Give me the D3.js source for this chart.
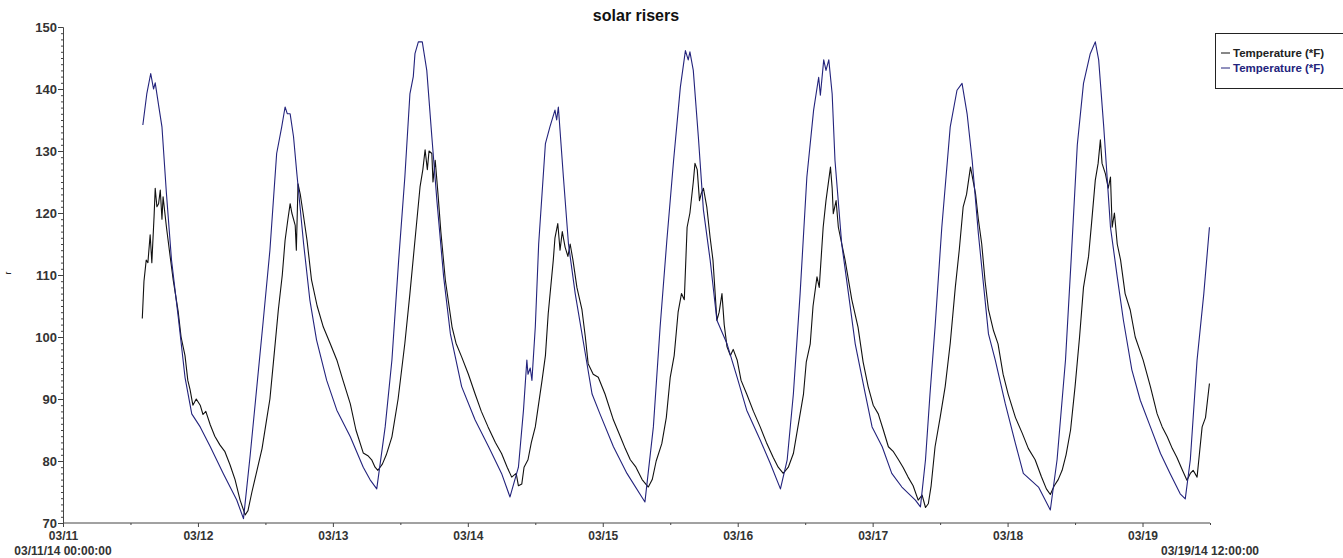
<!DOCTYPE html>
<html>
<head>
<meta charset="utf-8">
<script src="https://cdn.jsdelivr.net/npm/d3@7"></script>
<style>
body { margin: 0; background: #fff; }
svg { display: block; font-family: "Liberation Sans", Arial, sans-serif; }
.axis text { font-weight: bold; fill: #333; }
.axis path, .axis line { stroke: #444; }
</style>
</head>
<body>
<svg id="chart" width="1343" height="558"></svg>
<script>
'use strict';

//Readings taken off the plot. Each pair is [hours after 03/11/14 00:00, degrees F].
const seriesBlack = [[14.1,103],[14.4,109],[14.8,112.4],[15.1,112],[15.5,116.5],[15.8,112],[16.2,119.5],[16.4,124],[16.7,121],[17.0,121.5],[17.3,123.7],[17.6,119],[17.8,122.6],[18.4,117.7],[19.0,113.4],[19.6,109.2],[20.5,104],[21.0,100],[21.7,97],[22.2,93],[22.6,91.5],[23.1,89],[23.7,90],[24.4,89],[24.9,87.5],[25.4,88],[26.2,85.8],[27.0,84],[27.9,82.6],[28.8,81.5],[29.7,79.4],[30.6,77],[31.5,73.7],[32.4,71.3],[32.9,72],[33.6,75],[34.5,78.5],[35.4,82],[36.2,86.6],[36.8,90],[37.4,95.7],[38.3,104.4],[39.0,110],[39.5,115.6],[40.0,119],[40.4,121.5],[40.7,120],[41.3,118],[41.5,114],[41.8,124.7],[42.2,123],[42.7,120],[43.4,115.6],[44.2,109.2],[45.2,105],[46.3,101.6],[47.5,99],[48.7,96.3],[49.8,93],[51.1,89.2],[52.1,85],[53.4,81.3],[54.3,80.8],[54.9,80.2],[55.5,79],[56.0,78.5],[56.8,79.5],[57.5,81],[58.5,83.9],[59.6,90],[60.8,99],[61.7,107],[62.6,115.6],[63.5,124.2],[64.0,127],[64.4,130.2],[64.8,127],[65.1,130],[65.6,129.6],[65.8,125],[66.2,128.5],[66.7,123],[67.2,117],[68.0,109.2],[69.2,101.6],[69.9,99],[70.9,96.8],[72.1,94],[73.3,90.8],[74.4,88],[75.6,85.5],[76.9,83],[78.0,81.2],[79.0,79],[79.8,77.4],[80.6,78],[81.0,76],[81.6,76.3],[82.0,79],[82.7,80.2],[83.3,83],[84.0,85.5],[85.2,93],[85.8,97],[86.3,103.8],[87.2,112.4],[87.5,116],[88.0,118.3],[88.4,114],[88.8,117],[89.3,114.5],[89.8,113],[90.2,115],[90.7,112.4],[91.4,108],[92.3,104.4],[92.9,100],[93.4,95.7],[94.3,94],[95.2,93.5],[96.4,90.8],[97.9,86.6],[99.1,84],[100.0,82],[100.9,80.2],[101.9,79],[103.0,77],[104.1,75.8],[104.8,77],[105.5,80],[106.5,82.8],[107.3,87],[108.0,93.5],[108.7,97],[109.4,104],[110.0,107],[110.5,106],[111.0,117.7],[111.5,120],[112.1,125],[112.4,128],[112.8,127],[113.2,122],[113.5,123.1],[113.9,124],[114.5,121],[115.1,116],[115.6,112.4],[116.3,102.7],[116.7,104],[117.2,107],[117.6,102],[118.1,98.4],[118.7,97],[119.2,98],[119.9,96.3],[120.6,93],[121.6,90.8],[122.8,88],[124.0,85.5],[125.1,83],[126.3,80.6],[127.2,79],[128.1,78],[129.0,79],[129.9,81.2],[130.8,86],[131.7,90.8],[132.2,96],[132.9,98.9],[133.4,105],[134.1,109.7],[134.5,108],[135.2,117.7],[135.7,122],[136.5,127.4],[136.8,124],[137.0,119.9],[137.5,122],[137.9,117.7],[139.1,112.4],[140.3,106],[141.4,101.6],[142.3,96],[143.2,92],[144.1,89],[145.0,87.6],[145.9,85],[146.8,82.3],[147.7,81.5],[148.6,80.2],[149.4,79],[150.3,77.4],[151.2,76],[152.1,73.7],[152.8,74.5],[153.4,72.5],[153.9,73.1],[154.4,76],[155.1,82.3],[156.0,87],[156.9,92],[157.8,99],[158.7,108],[159.4,114],[160.1,121],[160.7,123],[161.4,127.4],[161.7,126],[162.3,123.1],[162.8,119],[163.4,115],[164.0,109],[164.6,104.4],[165.5,101],[166.3,98.9],[167.2,94],[168.1,90.8],[169.4,87],[170.6,84.5],[171.7,82],[172.9,80.2],[174.0,77.5],[174.9,75.5],[175.6,74.6],[176.3,76],[177.0,77],[177.7,78.5],[178.4,81],[179.2,85],[180.0,92],[180.8,100],[181.5,108],[182.4,113],[182.9,118],[183.6,125.3],[184.1,128],[184.5,131.8],[184.8,128],[185.4,126.3],[185.9,124],[186.3,125.8],[186.6,117.7],[187.0,120],[187.5,115],[188.1,112.4],[188.9,107],[189.8,104.4],[190.7,100],[192.1,96.3],[193.4,92],[194.6,87.6],[195.5,85.5],[196.4,83.9],[197.3,82],[198.1,80.6],[199.1,78.5],[199.9,76.9],[200.5,78],[201.0,78.5],[201.7,77.4],[202.1,81],[202.6,85.5],[203.2,87],[203.9,92.5]];

const seriesBlue = [[14.2,134.2],[14.9,139.2],[15.6,142.5],[15.8,141.5],[16.1,140],[16.4,141],[17.0,137.4],[17.6,133.9],[18.4,123.1],[19.3,112.4],[20.5,103.2],[21.7,93.5],[22.9,87.6],[24.4,85.5],[26.2,82.3],[28.5,78],[30.9,73.7],[32.1,70.7],[33.3,81],[35.6,102.5],[36.8,114],[38.0,129.6],[38.9,133.9],[39.5,137.1],[39.9,136],[40.4,136],[41.0,132.3],[41.6,126.3],[42.8,115],[43.9,106],[45.1,99.5],[46.9,93],[48.7,88.2],[51.1,83.9],[53.4,79],[54.6,77],[55.8,75.5],[57.3,85.5],[58.5,96.3],[59.7,112.4],[60.8,125.8],[61.7,139.2],[62.3,142],[62.6,145.7],[63.2,147.6],[63.9,147.6],[64.7,143],[65.6,132.3],[66.5,122],[67.7,109.7],[68.9,100.5],[70.9,92],[73.3,86.6],[75.7,82.3],[78.0,78],[79.5,74.2],[81.0,79],[81.9,88.2],[82.5,96.3],[82.7,94],[83.1,95],[83.4,93],[84.0,101.6],[84.6,115],[85.8,131.2],[86.6,133.9],[87.5,136.6],[87.8,135],[88.1,137.1],[89.0,125.8],[89.9,115],[91.1,107],[92.9,97.3],[94.1,90.8],[95.5,87.6],[97.9,82.3],[100.3,78],[103.5,73.4],[105.0,85.5],[106.2,101.6],[107.4,115.6],[108.6,128.5],[109.8,140.3],[110.7,146.2],[111.2,144.7],[111.5,146],[112.1,143],[113.0,132.3],[113.9,120.5],[115.1,112.4],[116.3,102.7],[118.1,98.9],[119.9,93.5],[121.6,88.2],[124.0,83.4],[125.8,79.6],[127.6,75.5],[128.8,80.2],[129.9,90.8],[131.1,107],[132.3,125.8],[133.5,136.6],[134.4,141.9],[134.7,139],[135.3,144.7],[135.7,143],[136.2,144.7],[136.8,139.2],[137.3,128.5],[138.5,115],[139.7,107],[140.9,98.9],[142.7,90.8],[143.9,85.5],[145.7,82.3],[147.4,78],[149.2,75.8],[151.6,73.7],[152.5,72.6],[153.4,80.2],[154.2,90.8],[155.1,101.6],[156.3,117.7],[157.8,133.9],[159.0,139.8],[159.9,140.9],[160.8,136],[161.7,128.5],[162.8,116.7],[164.6,100.5],[165.8,96.3],[167.6,89.2],[169.4,82.8],[170.8,78],[173.5,75.8],[175.6,72.1],[176.8,80.2],[178.3,96.3],[179.3,112.4],[180.4,131],[181.5,140.9],[182.7,145.7],[183.6,147.6],[184.2,144.7],[185.1,133.9],[186.3,117.7],[187.5,109.7],[188.6,102.7],[190.1,94.7],[191.6,89.8],[193.4,85.5],[195.2,81.2],[196.9,78],[198.7,74.7],[199.6,73.9],[200.5,80.2],[201.7,96.3],[202.9,107],[203.9,117.7]];

const seriesNames = ['Temperature (*F)', 'Temperature (*F)'];
const seriesColors = ['#111111', '#23237c'];
const yTickValues = [70, 80, 90, 100, 110, 120, 130, 140, 150];
const startLabel = '03/11/14 00:00:00';
const endLabel = '03/19/14 12:00:00';
const chartTitle = 'solar risers';

const width = 1343;
const height = 558;
const margin = {top: 27, right: 133, bottom: 35, left: 63};

const svg = d3.select('#chart');

//Time runs from 03/11/14 00:00 to 03/19/14 12:00.
const t0 = new Date(2014, 2, 11, 0, 0);
const t1 = new Date(2014, 2, 19, 12, 0);
const toDate = (h) => new Date(t0.getTime() + h * 3600 * 1000);

const xScale = d3.scaleTime().domain([t0, t1]).range([margin.left, width - margin.right]);
const yScale = d3.scaleLinear().domain([70, 150]).range([height - margin.bottom, margin.top]);

//Title.
svg.append('text')
	.attr('x', 636)
	.attr('y', 21)
	.attr('text-anchor', 'middle')
	.style('font-size', '16px')
	.style('font-weight', 'bold')
	.style('fill', '#111')
	.text(chartTitle);

//Small rotated y axis title remnant at the left edge.
svg.append('text')
	.attr('transform', 'translate(11, 273) rotate(-90)')
	.attr('text-anchor', 'middle')
	.style('font-size', '9px')
	.style('fill', '#222')
	.text('r');

//y axis: major and minor ticks.
const yAxis = d3.axisLeft(yScale).tickValues(yTickValues).tickSize(5).tickPadding(1).tickFormat(d3.format('d'));
svg.append('g')
	.attr('class', 'axis')
	.attr('transform', `translate(${margin.left}, 0)`)
	.call(yAxis)
	.call((g) => g.selectAll('text').style('font-size', '13px'));
svg.append('g')
	.attr('class', 'axis')
	.attr('transform', `translate(${margin.left}, 0)`)
	.call(d3.axisLeft(yScale).tickValues(d3.range(70, 151, 1)).tickSize(2).tickFormat(''))
	.call((g) => g.select('.domain').remove());

//x axis: a tick each day, a small tick at noon.
const xAxis = d3.axisBottom(xScale)
	.ticks(d3.timeDay.every(1))
	.tickSize(4)
	.tickPadding(4)
	.tickFormat(d3.timeFormat('%m/%d'));
svg.append('g')
	.attr('class', 'axis')
	.attr('transform', `translate(0, ${height - margin.bottom})`)
	.call(xAxis)
	.call((g) => g.select('.domain').attr('d', `M${margin.left},0H${width - margin.right}`))
	.call((g) => g.selectAll('text').style('font-size', '12px'));
svg.append('g')
	.attr('class', 'axis')
	.attr('transform', `translate(0, ${height - margin.bottom})`)
	.call(d3.axisBottom(xScale).tickValues(d3.timeDay.range(t0, t1).map((d) => d3.timeHour.offset(d, 12))).tickSize(2).tickFormat(''))
	.call((g) => g.select('.domain').remove());

//Start and end date labels under the axis.
svg.selectAll('.rangeLabel')
	.data([[t0, startLabel], [t1, endLabel]])
	.enter()
	.append('text')
	.attr('class', 'rangeLabel')
	.attr('x', (d) => xScale(d[0]))
	.attr('y', 555)
	.attr('text-anchor', 'middle')
	.style('font-size', '12px')
	.style('font-weight', 'bold')
	.style('fill', '#333')
	.text((d) => d[1]);

//Lines.
const line = d3.line()
	.x((d) => xScale(toDate(d[0])))
	.y((d) => yScale(d[1]));
[seriesBlack, seriesBlue].forEach((s, i) => {
	svg.append('path')
		.datum(s)
		.attr('fill', 'none')
		.attr('stroke', seriesColors[i])
		.attr('stroke-width', 1.1)
		.attr('stroke-linejoin', 'round')
		.attr('d', line);
});

//Legend box, running off the right edge.
const legend = svg.append('g').attr('transform', 'translate(1215, 33)');
legend.append('rect')
	.attr('x', 0.5)
	.attr('y', 0.5)
	.attr('width', 200)
	.attr('height', 55)
	.attr('fill', '#fff')
	.attr('stroke', '#222');
seriesNames.forEach((name, i) => {
	const y = 20 + i * 15;
	legend.append('line')
		.attr('x1', 6).attr('x2', 15)
		.attr('y1', y).attr('y2', y)
		.attr('stroke', seriesColors[i]);
	legend.append('text')
		.attr('x', 18)
		.attr('y', y)
		.attr('dy', '0.35em')
		.style('font-size', '11.5px')
		.style('font-weight', 'bold')
		.style('fill', i === 0 ? '#222' : '#23237c')
		.text(name);
});
</script>
</body>
</html>
